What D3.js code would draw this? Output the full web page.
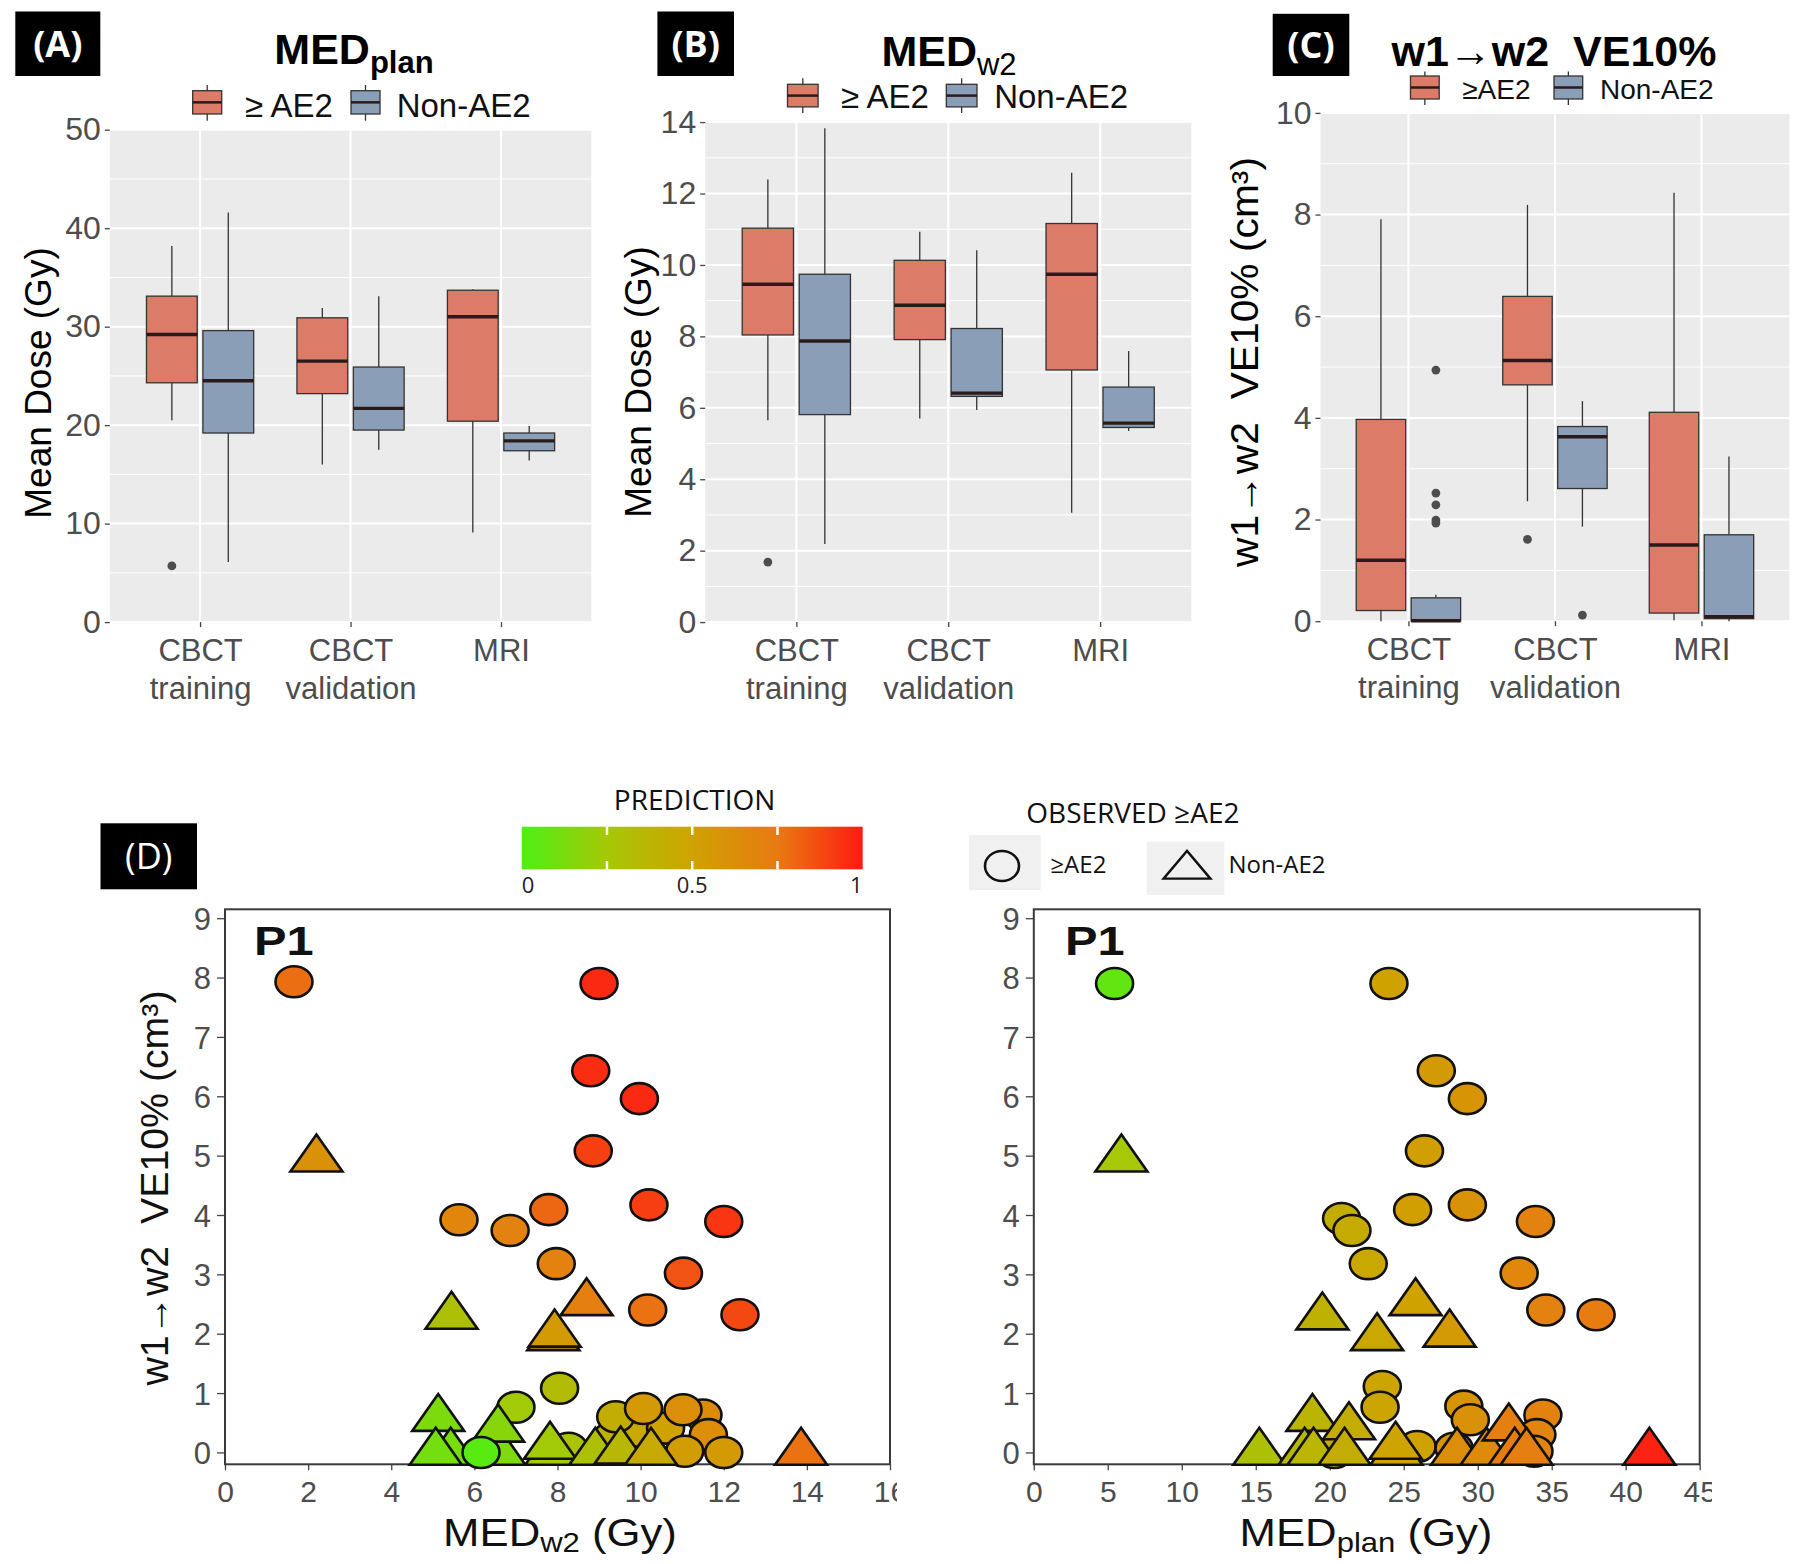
<!DOCTYPE html>
<html><head><meta charset="utf-8">
<script src="https://cdn.jsdelivr.net/npm/d3@7"></script>
<style>
body{margin:0;background:#fff;}
svg{display:block;}
</style></head><body>
<svg id="c" width="1800" height="1564"></svg>
<script>
// ================= DATA =================
const categories = [["CBCT","training"],["CBCT","validation"],["MRI"]];
const groupLabelsAB = ["≥ AE2","Non-AE2"];
const groupLabelsC = ["≥AE2","Non-AE2"];
// box stats per category: [lower whisker, Q1, median, Q3, upper whisker]
const medPlanAE2 = [[20.5,24.3,29.2,33.1,38.2],[16.0,23.2,26.5,30.9,31.9],[9.1,20.4,31.0,33.7,33.8]];
const medPlanNon = [[6.1,19.2,24.5,29.6,41.6],[17.5,19.5,21.7,25.9,33.1],[16.4,17.4,18.4,19.2,19.9]];
const medPlanOutAE2 = [[5.7],[],[]];
const medPlanOutNon = [[],[],[]];
const medW2AE2 = [[5.65,8.04,9.46,11.03,12.39],[5.70,7.91,8.87,10.13,10.93],[3.06,7.06,9.74,11.16,12.58]];
const medW2Non = [[2.19,5.81,7.87,9.74,13.83],[5.94,6.32,6.41,8.22,10.41],[5.35,5.45,5.57,6.58,7.59]];
const medW2OutAE2 = [[1.68],[],[]];
const medW2OutNon = [[],[],[]];
const ve10AE2 = [[0.0,0.21,1.20,3.97,7.91],[2.36,4.65,5.13,6.39,8.19],[0.02,0.16,1.50,4.11,8.43]];
const ve10Non = [[0.0,0.0,0.01,0.46,0.52],[1.86,2.61,3.63,3.83,4.33],[0.0,0.05,0.09,1.70,3.24]];
const ve10OutAE2 = [[],[1.61],[]];
const ve10OutNon = [[4.94,2.52,2.29,1.99,1.93],[0.12],[]];
const ticksPlan = [0,10,20,30,40,50];
const ticksW2 = [0,2,4,6,8,10,12,14];
const ticksVE = [0,2,4,6,8,10];
// scatter: [x, VE10% (cm3), observed >=AE2 (1) / Non-AE2 (0), prediction]
const scatterW2 = [
 [1.66,7.93,1,0.78],[9.0,7.90,1,0.96],[8.8,6.43,1,0.95],[9.97,5.96,1,0.96],[8.86,5.08,1,0.90],
 [5.63,3.92,1,0.68],[6.86,3.74,1,0.70],[7.79,4.09,1,0.80],[10.2,4.17,1,0.91],[12.0,3.89,1,0.93],
 [7.97,3.18,1,0.70],[11.03,3.02,1,0.85],[10.17,2.40,1,0.77],[12.39,2.32,1,0.88],[8.05,1.08,1,0.33],
 [7.0,0.76,1,0.24],[9.3,0.25,1,0.40],[10.0,0.35,1,0.46],[10.6,0.41,1,0.50],[9.4,0.60,1,0.42],
 [10.07,0.74,1,0.55],[11.5,0.63,1,0.64],[11.02,0.72,1,0.62],[11.63,0.30,1,0.63],[11.06,0.02,1,0.53],
 [12.0,0.0,1,0.55],[8.27,0.07,1,0.28],
 [2.2,4.94,0,0.60],[5.45,2.29,0,0.30],[8.7,2.52,0,0.72],[7.9,1.93,0,0.55],[7.93,1.99,0,0.55],
 [5.13,0.57,0,0.13],[5.43,0.0,0,0.12],[5.07,0.0,0,0.11],[6.6,0.0,0,0.14],[6.57,0.39,0,0.16],
 [7.85,0.0,0,0.23],[7.82,0.10,0,0.24],[8.91,0.0,0,0.30],[9.52,0.02,0,0.36],[10.25,0.0,0,0.45],
 [13.86,0.0,0,0.77],[6.16,0.0,1,0.03]
];
const scatterPlan = [
 [5.46,7.90,1,0.06],[24.0,7.90,1,0.50],[27.2,6.43,1,0.55],[29.3,5.96,1,0.58],[26.4,5.08,1,0.52],
 [20.8,3.94,1,0.42],[21.5,3.74,1,0.44],[25.6,4.09,1,0.52],[29.3,4.17,1,0.60],[33.9,3.89,1,0.70],
 [22.6,3.18,1,0.46],[32.8,3.02,1,0.67],[34.6,2.40,1,0.70],[38.0,2.32,1,0.74],[23.55,1.11,1,0.48],
 [23.4,0.76,1,0.48],[29.06,0.78,1,0.58],[29.5,0.55,1,0.60],[34.4,0.63,1,0.70],[34.0,0.30,1,0.69],
 [33.8,0.02,1,0.68],[20.3,0.0,1,0.44],[25.9,0.10,1,0.50],[28.4,0.07,1,0.58],
 [5.92,4.94,0,0.25],[19.5,2.28,0,0.40],[25.8,2.52,0,0.50],[23.2,1.93,0,0.47],[28.1,1.99,0,0.55],
 [18.83,0.57,0,0.38],[21.3,0.43,0,0.43],[15.24,0.0,0,0.30],[18.3,0.0,0,0.36],[18.9,0.0,0,0.37],
 [21.0,0.0,0,0.43],[24.5,0.0,0,0.49],[24.45,0.10,0,0.49],[28.6,0.0,0,0.63],[30.6,0.0,0,0.65],
 [32.1,0.41,0,0.72],[32.5,0.0,0,0.74],[33.3,0.0,0,0.72],[41.6,0.0,0,0.98]
];
const ticksScatterY = [0,1,2,3,4,5,6,7,8,9];
const ticksScatterW2 = [0,2,4,6,8,10,12,14,16];
const ticksScatterPlan = [0,5,10,15,20,25,30,35,40,45];
const predStops = [0,0.25,0.5,0.75,1];
const predColors = ["#4cf014","#a6c806","#cfa200","#e87a12","#ff1a12"];
const predTicks = [0.25,0.5,0.75];
const predLabels = [0,0.5,1];

// ================= DRAWING =================
const svg = d3.select("#c");
const FONT = '"Liberation Sans", Arial, sans-serif';
const FONT2 = '"Open Sans", "Noto Sans", sans-serif';
const RED = "#dd7b69", BLUE = "#8b9eb7", LINE = "#333";
const predColor = d3.scaleLinear().domain(predStops).range(predColors).interpolate(d3.interpolateRgb);

function boxPanel(c) {
  const g = svg.append("g");
  const x = d3.scaleLinear().domain([0.4,3.6]).range([c.left,c.right]);
  const y = d3.scaleLinear().domain([0,c.yMax]).range([c.bottom,c.top]);
  g.append("rect").attr("x",c.left).attr("y",c.top).attr("width",c.right-c.left).attr("height",c.bottom-c.top).attr("fill","#ebebeb");
  const minor = c.ticks.slice(0,-1).map((t,i)=>(t+c.ticks[i+1])/2);
  g.selectAll(null).data(minor).join("line").attr("x1",c.left).attr("x2",c.right)
    .attr("y1",d=>y(d)).attr("y2",d=>y(d)).attr("stroke","#fff").attr("stroke-width",1);
  g.selectAll(null).data(c.ticks).join("line").attr("x1",c.left).attr("x2",c.right)
    .attr("y1",d=>y(d)).attr("y2",d=>y(d)).attr("stroke","#fff").attr("stroke-width",2);
  g.selectAll(null).data([1,2,3]).join("line").attr("y1",c.top).attr("y2",c.bottom)
    .attr("x1",d=>x(d)).attr("x2",d=>x(d)).attr("stroke","#fff").attr("stroke-width",2);
  const series = [{st:c.ae2,out:c.outAE2,fill:RED,off:-0.1875},{st:c.non,out:c.outNon,fill:BLUE,off:0.1875}];
  const hw = 0.16875;
  series.forEach(s => s.st.forEach((st,i) => {
    const cx = i+1+s.off;
    const [lo,q1,med,q3,hi] = st;
    g.append("line").attr("x1",x(cx)).attr("x2",x(cx)).attr("y1",y(hi)).attr("y2",y(q3)).attr("stroke",LINE).attr("stroke-width",1.3);
    g.append("line").attr("x1",x(cx)).attr("x2",x(cx)).attr("y1",y(q1)).attr("y2",y(lo)).attr("stroke",LINE).attr("stroke-width",1.3);
    g.append("rect").attr("x",x(cx-hw)).attr("width",x(cx+hw)-x(cx-hw)).attr("y",y(q3)).attr("height",Math.max(1,y(q1)-y(q3)))
      .attr("fill",s.fill).attr("stroke",LINE).attr("stroke-width",1.3);
    g.append("line").attr("x1",x(cx-hw)).attr("x2",x(cx+hw)).attr("y1",y(med)).attr("y2",y(med)).attr("stroke","#2a1a1a").attr("stroke-width",3.4);
    s.out[i].forEach(o => g.append("circle").attr("cx",x(cx)).attr("cy",y(o)).attr("r",4.4).attr("fill","#4d4d4d"));
  }));
  const yg = g.append("g").attr("transform",`translate(${c.left},0)`).call(d3.axisLeft(y).tickValues(c.ticks).tickSize(5).tickPadding(4));
  yg.select(".domain").remove();
  yg.selectAll("line").attr("stroke","#444").attr("stroke-width",1.3);
  yg.selectAll("text").attr("font-size",32).attr("fill","#4d4d4d").attr("font-family",FONT);
  const xg = g.append("g").attr("transform",`translate(0,${c.bottom})`).call(d3.axisBottom(x).tickValues([1,2,3]).tickSize(5).tickFormat(""));
  xg.select(".domain").remove();
  xg.selectAll("line").attr("stroke","#444").attr("stroke-width",1.3);
  xg.selectAll("text").remove();
  xg.selectAll(".tick").each(function(d){
    const t = d3.select(this).append("text").attr("text-anchor","middle").attr("font-size",31)
      .attr("fill","#4d4d4d").attr("font-family",FONT);
    categories[d-1].forEach((ln,k)=>t.append("tspan").attr("x",0).attr("y",39+k*38).text(ln));
  });
  // y title
  const yt = svg.append("text").attr("transform",`translate(${c.ytX},${c.ytY}) rotate(-90)`).attr("text-anchor","middle")
    .attr("font-family",FONT).attr("font-size",c.ytSize).attr("fill","#000").style("white-space","pre").text(c.yTitle);
  if (c.ytLen) yt.attr("textLength",c.ytLen).attr("lengthAdjust","spacingAndGlyphs");
  // title
  const tt = svg.append("text").attr("x",c.titleX).attr("y",c.titleY).attr("text-anchor","middle")
    .attr("font-family",FONT).attr("fill","#000").style("white-space","pre");
  c.title.forEach(p => tt.append("tspan").attr("font-size",p.size).attr("font-weight",p.w||"bold").attr("dy",p.dy||0).text(p.t));
  // legend
  c.legend.forEach((k,i) => {
    const fill = i===0?RED:BLUE;
    const cxk = (k.x0+k.x1)/2;
    svg.append("line").attr("x1",cxk).attr("x2",cxk).attr("y1",c.lg.w0).attr("y2",c.lg.w1).attr("stroke",LINE).attr("stroke-width",1.3);
    svg.append("rect").attr("x",k.x0).attr("y",c.lg.y0).attr("width",k.x1-k.x0).attr("height",c.lg.y1-c.lg.y0)
      .attr("fill",fill).attr("stroke",LINE).attr("stroke-width",1.3);
    svg.append("line").attr("x1",k.x0).attr("x2",k.x1).attr("y1",(c.lg.y0+c.lg.y1)/2).attr("y2",(c.lg.y0+c.lg.y1)/2).attr("stroke","#2a1a1a").attr("stroke-width",2.5);
    svg.append("text").attr("x",k.tx).attr("y",c.lg.base).attr("font-family",FONT).attr("font-size",c.lg.size)
      .attr("fill","#111").text(c.labels[i]);
  });
  // panel label
  svg.append("rect").attr("x",c.lab[0]).attr("y",c.lab[1]).attr("width",c.lab[2]-c.lab[0]).attr("height",c.lab[3]-c.lab[1]).attr("fill","#000");
  svg.append("text").attr("x",(c.lab[0]+c.lab[2])/2).attr("y",(c.lab[1]+c.lab[3])/2+13).attr("text-anchor","middle")
    .attr("font-family",FONT2).attr("font-weight","bold").attr("font-size",36).attr("fill","#fff").text(c.labText);
}

boxPanel({left:109.8,right:591.3,top:129.7,bottom:622.1,yMax:50,ticks:ticksPlan,
  ae2:medPlanAE2,non:medPlanNon,outAE2:medPlanOutAE2,outNon:medPlanOutNon,
  yTitle:"Mean Dose (Gy)",ytX:51,ytY:383,ytSize:37,
  title:[{t:"MED",size:43},{t:"plan",size:31,dy:9}],titleX:354,titleY:64,
  labels:groupLabelsAB,lg:{y0:90.7,y1:114,w0:85,w1:120.7,base:116.5,size:33},
  legend:[{x0:192.7,x1:221.7,tx:245},{x0:351,x1:380,tx:396.7}],
  lab:[15.3,11.5,100.3,76],labText:"(A)"});
boxPanel({left:705.2,right:1191.3,top:122.1,bottom:622.1,yMax:14,ticks:ticksW2,
  ae2:medW2AE2,non:medW2Non,outAE2:medW2OutAE2,outNon:medW2OutNon,
  yTitle:"Mean Dose (Gy)",ytX:651,ytY:382,ytSize:37,
  title:[{t:"MED",size:43},{t:"w2",size:31,dy:9,w:"normal"}],titleX:949,titleY:66,
  labels:groupLabelsAB,lg:{y0:84.3,y1:106.9,w0:78.3,w1:112.9,base:108.3,size:33},
  legend:[{x0:787.5,x1:818.1,tx:841},{x0:946.3,x1:977,tx:994.2}],
  lab:[657.4,11.5,734,76],labText:"(B)"});
boxPanel({left:1320.5,right:1789.4,top:112.9,bottom:621.2,yMax:10,ticks:ticksVE,
  ae2:ve10AE2,non:ve10Non,outAE2:ve10OutAE2,outNon:ve10OutNon,
  yTitle:"w1→w2  VE10% (cm³)",ytX:1258,ytY:362,ytSize:38,ytLen:410,
  title:[{t:"w1→w2  VE10%",size:43}],titleX:1554,titleY:66,
  labels:groupLabelsC,lg:{y0:76,y1:99,w0:71.4,w1:105,base:99,size:28},
  legend:[{x0:1410.5,x1:1439.2,tx:1462.2},{x0:1554,x1:1582.7,tx:1600}],
  lab:[1272.7,13.8,1349.3,76],labText:"(C)"});

// ---------- scatter panels ----------
const RX = 18.5, RY = 15.5;
const triPath = "M0,-24.7L26,12.3L-26,12.3Z";
function scatterPanel(c) {
  const g = svg.append("g");
  const x = d3.scaleLinear().domain([0,c.xMax]).range([c.left,c.right]);
  const y = d3.scaleLinear().domain([-0.2,9.15]).range([c.bottom,c.top]);
  g.append("rect").attr("x",c.left).attr("y",c.top).attr("width",c.right-c.left).attr("height",c.bottom-c.top)
    .attr("fill","#fff").attr("stroke","#3a3a3a").attr("stroke-width",2);
  const clipId = "clip"+c.id;
  svg.append("clipPath").attr("id",clipId).append("rect").attr("x",0).attr("y",0).attr("width",c.clipX).attr("height",1564);
  const yg = g.append("g").attr("transform",`translate(${c.left},0)`).call(d3.axisLeft(y).tickValues(ticksScatterY).tickSize(8).tickPadding(6));
  yg.select(".domain").remove();
  yg.selectAll("line").attr("stroke","#444").attr("stroke-width",1.3);
  yg.selectAll("text").attr("font-size",31).attr("fill","#4d4d4d").attr("font-family",FONT).attr("dy","0.36em");
  const xg = g.append("g").attr("transform",`translate(0,${c.bottom})`).attr("clip-path",`url(#${clipId})`)
    .call(d3.axisBottom(x).tickValues(c.xTicks).tickSize(6));
  xg.select(".domain").remove();
  xg.selectAll("line").attr("stroke","#444").attr("stroke-width",1.3);
  xg.selectAll("text").attr("font-size",30).attr("fill","#4d4d4d").attr("font-family",FONT)
    .attr("y",38).attr("dy",0);
  const pts = g.append("g");
  c.data.forEach(d => {
    if (d[2]===1) {
      pts.append("ellipse").attr("cx",x(d[0])).attr("cy",y(d[1])).attr("rx",RX).attr("ry",RY)
        .attr("fill",predColor(d[3])).attr("stroke","#111").attr("stroke-width",2.6);
    } else {
      pts.append("path").attr("d",triPath).attr("transform",`translate(${x(d[0])},${y(d[1])})`)
        .attr("fill",predColor(d[3])).attr("stroke","#111").attr("stroke-width",2.6).attr("stroke-linejoin","miter");
    }
  });
  // P1
  svg.append("text").attr("transform",`translate(${c.p1X},955) scale(1.22,1)`).attr("font-family",FONT)
    .attr("font-size",40).attr("font-weight","bold").attr("fill","#111").text("P1");
  // x title
  const xt = svg.append("text").attr("transform",`translate(${c.xtX},${c.xtY}) scale(1.15,1)`).attr("text-anchor","middle")
    .attr("font-family",FONT).attr("fill","#111");
  xt.append("tspan").attr("font-size",38).text("MED");
  xt.append("tspan").attr("font-size",27).attr("dy",6).text(c.sub);
  xt.append("tspan").attr("font-size",38).attr("dy",-6).text(" (Gy)");
}
scatterPanel({id:"L",left:225,right:890,top:909.3,bottom:1464.3,xMax:16,xTicks:ticksScatterW2,data:scatterW2,
  clipX:897,p1X:254,xtX:560,xtY:1546,sub:"w2"});
scatterPanel({id:"R",left:1033.8,right:1699.7,top:909.3,bottom:1464.3,xMax:45,xTicks:ticksScatterPlan,data:scatterPlan,
  clipX:1712,p1X:1065,xtX:1366,xtY:1546,sub:"plan"});
// D y title
svg.append("text").attr("transform","translate(168,1188) rotate(-90)").attr("text-anchor","middle")
  .attr("font-family",FONT).attr("font-size",38).attr("fill","#111").style("white-space","pre")
  .attr("textLength",395).attr("lengthAdjust","spacingAndGlyphs").text("w1→w2  VE10% (cm³)");
// (D) label
svg.append("rect").attr("x",100.5).attr("y",823.3).attr("width",96.5).attr("height",66).attr("fill","#000");
svg.append("text").attr("x",148.7).attr("y",869).attr("text-anchor","middle").attr("font-family",FONT2)
  .attr("font-size",36).attr("fill","#fff").text("(D)");

// ---------- colour bar ----------
const cb = d3.scaleLinear().domain([0,1]).range([521.7,862.7]);
const defs = svg.append("defs");
const grad = defs.append("linearGradient").attr("id","predGrad").attr("x1","0%").attr("x2","100%");
d3.range(0,1.0001,0.05).forEach(t => grad.append("stop").attr("offset",(t*100)+"%").attr("stop-color",predColor(t)));
svg.append("rect").attr("x",cb(0)).attr("y",826.7).attr("width",cb(1)-cb(0)).attr("height",42.6).attr("fill","url(#predGrad)");
predTicks.forEach(t => {
  svg.append("line").attr("x1",cb(t)).attr("x2",cb(t)).attr("y1",826.7).attr("y2",835).attr("stroke","#fff").attr("stroke-width",2.5);
  svg.append("line").attr("x1",cb(t)).attr("x2",cb(t)).attr("y1",861).attr("y2",869.3).attr("stroke","#fff").attr("stroke-width",2.5);
});
predLabels.forEach((t,i) => {
  svg.append("text").attr("x",cb(t)).attr("y",893).attr("font-family",FONT2).attr("font-size",22).attr("fill","#222")
    .attr("text-anchor", i===0?"start":(i===predLabels.length-1?"end":"middle")).text(t);
});
svg.append("text").attr("x",694.6).attr("y",810).attr("text-anchor","middle").attr("font-family",FONT2)
  .attr("font-size",28).attr("fill","#111").text("PREDICTION");

// ---------- shape legend ----------
svg.append("text").attr("x",1026.3).attr("y",823.3).attr("font-family",FONT2).attr("font-size",28).attr("fill","#111").text("OBSERVED ≥AE2");
svg.append("rect").attr("x",969).attr("y",835).attr("width",71.6).attr("height",55).attr("fill","#f0f0f0");
svg.append("ellipse").attr("cx",1002).attr("cy",866).attr("rx",17).attr("ry",15).attr("fill","none").attr("stroke","#111").attr("stroke-width",2.6);
svg.append("text").attr("x",1050.4).attr("y",873.3).attr("font-family",FONT2).attr("font-size",24).attr("fill","#111").text("≥AE2");
svg.append("rect").attr("x",1146.8).attr("y",841.7).attr("width",77.5).attr("height",53.3).attr("fill","#f0f0f0");
svg.append("path").attr("d",triPath).attr("transform","translate(1187,869.5) scale(0.9,0.75)").attr("fill","none").attr("stroke","#111").attr("stroke-width",3);
svg.append("text").attr("x",1228.4).attr("y",873.3).attr("font-family",FONT2).attr("font-size",24).attr("fill","#111").text("Non-AE2");
</script>
</body></html>
